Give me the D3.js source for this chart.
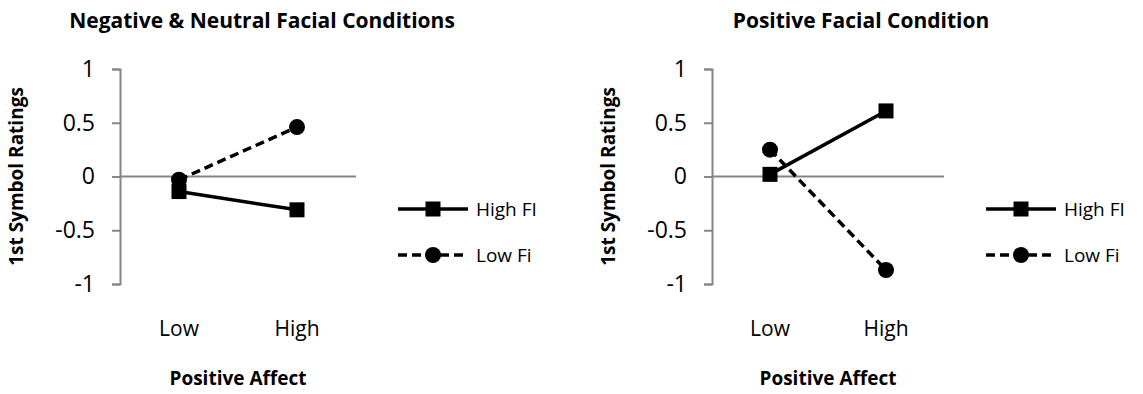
<!DOCTYPE html>
<html>
<head>
<meta charset="utf-8">
<script src="https://cdn.jsdelivr.net/npm/d3@7"></script>
<style>
  html, body { margin: 0; padding: 0; background: #fff; }
  svg { display: block; font-family: "Open Sans", sans-serif; }
</style>
</head>
<body>
<div id="chart"></div>
<script>
// categories on the x axis
const categories = ["Low", "High"];
const yTicks = [1, 0.5, 0, -0.5, -1];
const seriesNames = ["High FI", "Low Fi"];

// left panel: Negative & Neutral
const negHighFI = [-0.14, -0.31];
const negLowFi  = [-0.03, 0.46];
// right panel: Positive
const posHighFI = [0.02, 0.61];
const posLowFi  = [0.25, -0.87];

const panels = [
  { title: "Negative & Neutral Facial Conditions", series: [negHighFI, negLowFi],
    x0: 120, x1: 356, titleX: 262 },
  { title: "Positive Facial Condition", series: [posHighFI, posLowFi],
    x0: 712, x1: 944, titleX: 861 }
];

const W = 1143, H = 394;
const svg = d3.select("#chart").append("svg").attr("width", W).attr("height", H);

const y = d3.scaleLinear().domain([-1, 1]).range([284, 69]);
const axisColor = "#868686";

function drawPanel(p) {
  const g = svg.append("g");
  const x = d3.scalePoint().domain(categories).range([p.x0, p.x1]).padding(0.5);

  g.append("text")
    .attr("x", p.titleX).attr("y", 28)
    .attr("text-anchor", "middle")
    .attr("font-size", 21).attr("font-weight", "bold")
    .text(p.title);

  // y axis
  const yAxis = d3.axisLeft(y).tickValues(yTicks).tickSize(8).tickPadding(17)
    .tickFormat(d => String(d));
  const ya = g.append("g").attr("transform", `translate(${p.x0},0)`).call(yAxis);
  ya.select(".domain").attr("stroke", axisColor).attr("stroke-width", 2);
  ya.selectAll(".tick line").attr("stroke", axisColor).attr("stroke-width", 2);
  ya.selectAll(".tick text").attr("font-size", 23).attr("fill", "#000")
    .attr("font-family", "'Open Sans', sans-serif");

  // zero line as category axis
  g.append("line")
    .attr("x1", p.x0).attr("x2", p.x1)
    .attr("y1", y(0)).attr("y2", y(0))
    .attr("stroke", axisColor).attr("stroke-width", 2);

  // category labels
  g.selectAll(".cat").data(categories).enter().append("text")
    .attr("x", d => x(d)).attr("y", 336)
    .attr("text-anchor", "middle").attr("font-size", 21)
    .text(d => d);

  g.append("text")
    .attr("x", (p.x0 + p.x1) / 2).attr("y", 385)
    .attr("text-anchor", "middle").attr("font-size", 19).attr("font-weight", "bold")
    .text("Positive Affect");

  g.append("text")
    .attr("transform", `translate(${p.x0 - 97},${y(0)}) rotate(-90)`)
    .attr("text-anchor", "middle").attr("font-size", 19).attr("font-weight", "bold")
    .text("1st Symbol Ratings");

  const line = d3.line().x((d, i) => x(categories[i])).y(d => y(d));

  p.series.forEach((vals, si) => {
    g.append("path")
      .attr("d", line(vals))
      .attr("fill", "none").attr("stroke", "#000").attr("stroke-width", 3.5)
      .attr("stroke-dasharray", si === 1 ? "9,5" : null);
  });
  // markers on top
  p.series.forEach((vals, si) => {
    vals.forEach((v, i) => drawMarker(g, si, x(categories[i]), y(v)));
  });

  // legend
  const lx = p.x1 + 42;
  seriesNames.forEach((name, si) => {
    const ly = 209 + si * 46;
    g.append("line")
      .attr("x1", lx).attr("x2", lx + 70)
      .attr("y1", ly).attr("y2", ly)
      .attr("stroke", "#000").attr("stroke-width", 3.5)
      .attr("stroke-dasharray", si === 1 ? "9,5" : null);
    drawMarker(g, si, lx + 35, ly);
    g.append("text")
      .attr("x", lx + 78).attr("y", ly + 7)
      .attr("font-size", 19)
      .text(name);
  });
}

function drawMarker(g, si, cx, cy) {
  if (si === 0) {
    g.append("rect").attr("x", cx - 7.5).attr("y", cy - 7.5)
      .attr("width", 15).attr("height", 15).attr("fill", "#000");
  } else {
    g.append("circle").attr("cx", cx).attr("cy", cy).attr("r", 8).attr("fill", "#000");
  }
}

panels.forEach(drawPanel);
</script>
</body>
</html>
